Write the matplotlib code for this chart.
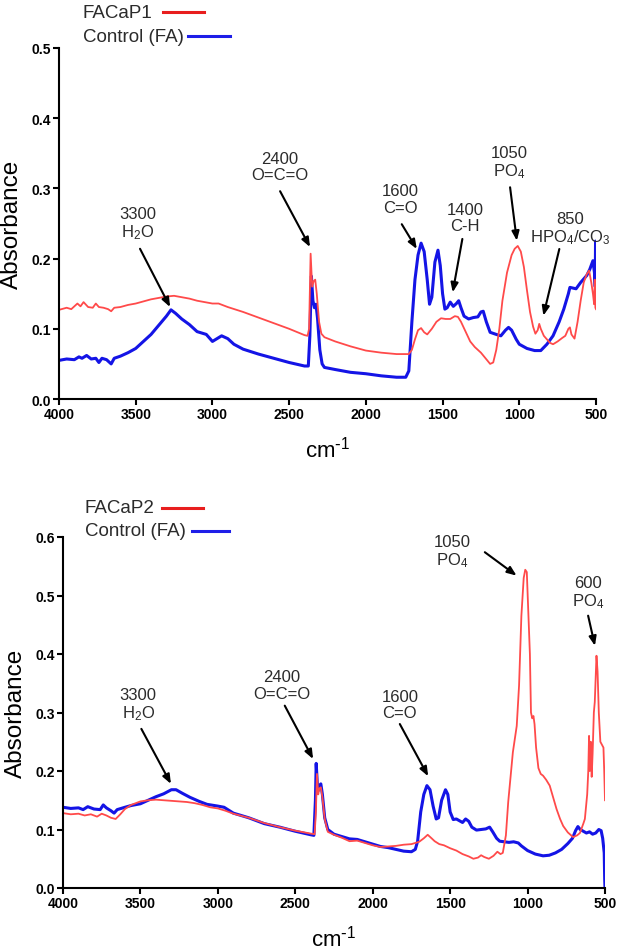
import matplotlib
matplotlib.use("Agg")
import matplotlib.pyplot as plt
from matplotlib.lines import Line2D
from matplotlib.ticker import FormatStrFormatter, MultipleLocator

W, H = 622, 953

plt.rcParams["font.family"] = ["Liberation Sans", "DejaVu Sans"]
plt.rcParams["mathtext.default"] = "regular"

# ---- panel 1: FACaP1 vs control ----
top_fa_wn = [4000, 3950, 3900, 3870, 3850, 3820, 3790, 3760, 3740, 3720, 3690, 3660, 3640,
             3600, 3550, 3500, 3450, 3400, 3350, 3300, 3270, 3240, 3200, 3150, 3100, 3070,
             3040, 3000, 2970, 2940, 2900, 2860, 2800, 2700, 2600, 2500, 2400, 2375, 2365,
             2355, 2345, 2335, 2325, 2315, 2300, 2285, 2270, 2200, 2100, 2000, 1900, 1800,
             1740, 1720, 1700, 1680, 1660, 1640, 1620, 1600, 1585, 1570, 1550, 1530, 1515,
             1500, 1485, 1470, 1450, 1430, 1410, 1395, 1380, 1360, 1330, 1300, 1270, 1250,
             1235, 1215, 1190, 1150, 1120, 1090, 1070, 1050, 1020, 1000, 950, 900, 860, 820,
             780, 740, 710, 680, 670, 650, 630, 600, 560, 540, 520, 510, 505, 503, 500]
top_fa_abs = [0.055, 0.057, 0.056, 0.060, 0.058, 0.062, 0.057, 0.058, 0.052, 0.058, 0.056,
              0.050, 0.058, 0.061, 0.066, 0.072, 0.082, 0.092, 0.105, 0.118, 0.127, 0.122,
              0.114, 0.106, 0.096, 0.094, 0.092, 0.082, 0.086, 0.090, 0.086, 0.078, 0.071,
              0.064, 0.058, 0.052, 0.047, 0.047, 0.090, 0.175, 0.140, 0.130, 0.135, 0.115,
              0.070, 0.050, 0.045, 0.042, 0.038, 0.036, 0.033, 0.031, 0.031, 0.040, 0.110,
              0.170, 0.205, 0.222, 0.210, 0.170, 0.135, 0.145, 0.195, 0.212, 0.190, 0.150,
              0.128, 0.130, 0.138, 0.132, 0.136, 0.140, 0.130, 0.118, 0.114, 0.116, 0.117,
              0.124, 0.125, 0.110, 0.095, 0.092, 0.090, 0.098, 0.102, 0.098, 0.085, 0.078,
              0.072, 0.069, 0.069, 0.078, 0.090, 0.110, 0.128, 0.150, 0.159, 0.158, 0.157,
              0.166, 0.176, 0.185, 0.197, 0.180, 0.160, 0.225, 0.200]

top_cap_wn = [4000, 3950, 3920, 3880, 3860, 3840, 3810, 3780, 3760, 3740, 3710, 3680, 3660,
              3640, 3600, 3550, 3500, 3450, 3400, 3350, 3300, 3250, 3200, 3150, 3100, 3050,
              3000, 2960, 2900, 2800, 2700, 2600, 2500, 2400, 2380, 2370, 2360, 2350, 2340,
              2330, 2320, 2305, 2290, 2270, 2200, 2100, 2000, 1900, 1800, 1720, 1700, 1680,
              1660, 1640, 1620, 1600, 1570, 1540, 1510, 1480, 1450, 1420, 1400, 1380, 1350,
              1320, 1290, 1250, 1220, 1190, 1170, 1150, 1130, 1110, 1080, 1050, 1030, 1010,
              990, 970, 950, 930, 910, 895, 880, 870, 860, 840, 820, 800, 780, 750, 720, 700,
              680, 670, 660, 640, 620, 600, 580, 560, 545, 530, 520, 512, 508, 504, 500]
top_cap_abs = [0.127, 0.130, 0.128, 0.136, 0.132, 0.138, 0.131, 0.130, 0.136, 0.131, 0.130,
               0.128, 0.125, 0.130, 0.131, 0.134, 0.136, 0.139, 0.142, 0.144, 0.146, 0.147,
               0.145, 0.143, 0.140, 0.138, 0.136, 0.136, 0.131, 0.124, 0.116, 0.108, 0.100,
               0.091, 0.090, 0.100, 0.207, 0.160, 0.168, 0.170, 0.150, 0.110, 0.093, 0.088,
               0.082, 0.075, 0.069, 0.066, 0.064, 0.064, 0.070, 0.085, 0.098, 0.101, 0.095,
               0.092, 0.100, 0.110, 0.115, 0.114, 0.114, 0.118, 0.117, 0.110, 0.096, 0.082,
               0.074, 0.066, 0.058, 0.050, 0.052, 0.070, 0.100, 0.140, 0.180, 0.205, 0.214,
               0.218, 0.210, 0.188, 0.155, 0.124, 0.103, 0.093, 0.098, 0.107, 0.100, 0.090,
               0.085, 0.080, 0.078, 0.082, 0.087, 0.090, 0.100, 0.102, 0.092, 0.086, 0.110,
               0.140, 0.166, 0.178, 0.183, 0.165, 0.150, 0.135, 0.170, 0.130, 0.128]

# ---- panel 2: FACaP2 vs control ----
bot_fa_wn = [4000, 3950, 3900, 3870, 3840, 3800, 3760, 3740, 3720, 3690, 3670, 3650, 3600,
             3560, 3500, 3450, 3400, 3350, 3300, 3270, 3230, 3180, 3120, 3070, 3000, 2960,
             2900, 2800, 2700, 2600, 2500, 2400, 2380, 2370, 2365, 2355, 2345, 2335, 2325,
             2310, 2290, 2250, 2200, 2150, 2100, 2050, 2000, 1950, 1900, 1850, 1800, 1750,
             1725, 1710, 1690, 1670, 1650, 1630, 1610, 1590, 1575, 1555, 1530, 1515, 1500,
             1480, 1460, 1440, 1420, 1400, 1380, 1360, 1330, 1300, 1270, 1245, 1225, 1200,
             1180, 1150, 1120, 1090, 1060, 1040, 1000, 950, 900, 860, 820, 780, 740, 710, 690,
             675, 660, 640, 620, 600, 580, 560, 540, 525, 515, 505, 502, 500]
bot_fa_abs = [0.138, 0.136, 0.137, 0.134, 0.139, 0.135, 0.134, 0.142, 0.137, 0.132, 0.128,
              0.134, 0.138, 0.141, 0.144, 0.150, 0.156, 0.161, 0.168, 0.168, 0.162, 0.155,
              0.148, 0.143, 0.140, 0.138, 0.128, 0.120, 0.110, 0.104, 0.097, 0.091, 0.090,
              0.150, 0.213, 0.165, 0.175, 0.178, 0.160, 0.120, 0.100, 0.092, 0.088, 0.084,
              0.083, 0.079, 0.075, 0.071, 0.069, 0.066, 0.063, 0.062, 0.066, 0.080, 0.130,
              0.160, 0.175, 0.168, 0.140, 0.118, 0.120, 0.150, 0.168, 0.160, 0.130, 0.117,
              0.118, 0.115, 0.112, 0.118, 0.114, 0.104, 0.099, 0.100, 0.101, 0.104, 0.096,
              0.085, 0.080, 0.079, 0.078, 0.079, 0.077, 0.072, 0.064, 0.058, 0.055, 0.056,
              0.060, 0.066, 0.076, 0.085, 0.098, 0.105, 0.100, 0.097, 0.094, 0.096, 0.092,
              0.094, 0.100, 0.098, 0.085, 0.060, 0.015, 0.0]

bot_cap_wn = [4000, 3950, 3900, 3860, 3820, 3780, 3750, 3720, 3690, 3660, 3630, 3600, 3560,
              3500, 3450, 3400, 3350, 3300, 3250, 3200, 3150, 3100, 3050, 3000, 2950, 2900,
              2800, 2700, 2600, 2500, 2400, 2375, 2367, 2360, 2352, 2345, 2335, 2325, 2310,
              2290, 2250, 2200, 2150, 2100, 2050, 2000, 1950, 1900, 1850, 1800, 1750, 1700,
              1670, 1645, 1620, 1600, 1570, 1540, 1500, 1460, 1420, 1380, 1350, 1320, 1300,
              1280, 1250, 1220, 1195, 1175, 1160, 1140, 1125, 1095, 1070, 1055, 1040, 1025,
              1015, 1005, 995, 985, 978, 970, 962, 955, 945, 930, 915, 900, 880, 857, 835, 813,
              790, 770, 740, 706, 680, 662, 640, 630, 615, 608, 603, 598, 592, 586, 580, 572,
              566, 555, 548, 540, 530, 520, 510, 505, 500]
bot_cap_abs = [0.128, 0.126, 0.127, 0.124, 0.126, 0.122, 0.127, 0.124, 0.120, 0.118, 0.126,
               0.135, 0.142, 0.148, 0.150, 0.151, 0.150, 0.149, 0.148, 0.147, 0.145, 0.142,
               0.138, 0.136, 0.132, 0.127, 0.120, 0.111, 0.104, 0.098, 0.093, 0.092, 0.130,
               0.195, 0.160, 0.170, 0.172, 0.155, 0.118, 0.096, 0.091, 0.086, 0.080, 0.081,
               0.077, 0.073, 0.070, 0.071, 0.072, 0.074, 0.075, 0.079, 0.085, 0.091, 0.085,
               0.080, 0.075, 0.073, 0.068, 0.064, 0.058, 0.054, 0.050, 0.052, 0.056, 0.053,
               0.050, 0.055, 0.062, 0.058, 0.060, 0.090, 0.147, 0.232, 0.277, 0.346, 0.465,
               0.530, 0.544, 0.540, 0.470, 0.400, 0.300, 0.290, 0.294, 0.280, 0.240, 0.205,
               0.195, 0.192, 0.185, 0.175, 0.155, 0.135, 0.118, 0.106, 0.095, 0.087, 0.090,
               0.094, 0.110, 0.118, 0.160, 0.200, 0.260, 0.200, 0.250, 0.190, 0.230, 0.300,
               0.318, 0.397, 0.370, 0.300, 0.250, 0.245, 0.240, 0.200, 0.150]

RED = "#ff4a4a"
BLUE = "#1414e6"
TEXT = "#2b2b2b"


def fig_xy(px, py):
    return px / W, 1 - py / H


def legend_rows(fig, rows):
    # rows: (label, text left px, y px, line x0, line x1, colour)
    for label, tx, ty, x0, x1, color in rows:
        fx, fy = fig_xy(tx, ty)
        fig.text(fx, fy, label, fontsize=13.5, color=TEXT, ha="left", va="center")
        a, y = fig_xy(x0, ty)
        b, _ = fig_xy(x1, ty)
        fig.add_artist(Line2D([a, b], [y, y], color=color, lw=2.2,
                              transform=fig.transFigure))


def style_axes(ax, ymax):
    ax.set_xlim(4000, 500)
    ax.set_ylim(0, ymax)
    ax.xaxis.set_major_locator(MultipleLocator(500))
    ax.yaxis.set_major_locator(MultipleLocator(0.1))
    ax.yaxis.set_major_formatter(FormatStrFormatter("%.1f"))
    for side in ["top", "right"]:
        ax.spines[side].set_visible(False)
    for side in ["left", "bottom"]:
        ax.spines[side].set_linewidth(1.5)
    ax.tick_params(direction="out", length=4, width=1.5, pad=2)
    for lab in ax.get_xticklabels() + ax.get_yticklabels():
        lab.set_fontfamily(["Liberation Sans Narrow", "Liberation Sans"])
        lab.set_fontweight("bold")
        lab.set_fontsize(10)
    ax.set_ylabel("Absorbance", fontsize=17.5, labelpad=6)
    ax.set_xlabel("cm$^{\\text{-}1}$", fontsize=16, labelpad=10)


def annotate(ax, notes):
    for text, tx, ty, ax0, ay0, hx, hy in notes:
        ax.text(tx, ty, text, fontsize=12, color=TEXT, ha="center", va="center",
                linespacing=1.1)
        ax.annotate("", xy=(hx, hy), xytext=(ax0, ay0),
                    arrowprops=dict(arrowstyle="-|>,head_length=0.55,head_width=0.22",
                                    lw=1.5, color="black", shrinkA=0, shrinkB=0))


fig = plt.figure(figsize=(W / 100, H / 100), dpi=100)

ax1 = fig.add_axes([59 / W, 1 - 400 / H, (596 - 59) / W, (400 - 49) / H])
ax1.plot(top_fa_wn, top_fa_abs, color=BLUE, lw=2.2)
ax1.plot(top_cap_wn, top_cap_abs, color=RED, lw=1.3)
style_axes(ax1, 0.5)
annotate(ax1, [
    ("3300\nH$_2$O", 3485, 0.250, 3472, 0.214, 3276, 0.131),
    ("2400\nO=C=O", 2559, 0.331, 2559, 0.296, 2364, 0.2165),
    ("1600\nC=O", 1777, 0.285, 1766, 0.249, 1668, 0.2137),
    ("1400\nC-H", 1353, 0.259, 1371, 0.228, 1434, 0.152),
    ("1050\nPO$_4$", 1067, 0.337, 1060, 0.3016, 1016, 0.2255),
    ("850\nHPO$_4$/CO$_3$", 669, 0.2435, 739, 0.2137, 843, 0.1187),
])
legend_rows(fig, [
    ("FACaP1", 83, 13, 163, 204, "#e81e1e"),
    ("Control (FA)", 83, 37, 188, 230, "#1e1ee8"),
])

ax2 = fig.add_axes([63 / W, 1 - 889 / H, (605 - 63) / W, (889 - 538) / H])
ax2.plot(bot_fa_wn, bot_fa_abs, color=BLUE, lw=2.2)
ax2.plot(bot_cap_wn, bot_cap_abs, color=RED, lw=1.3)
style_axes(ax2, 0.6)
annotate(ax2, [
    ("3300\nH$_2$O", 3515, 0.3137, 3494, 0.272, 3303, 0.178),
    ("2400\nO=C=O", 2589, 0.347, 2568, 0.3117, 2385, 0.2205),
    ("1600\nC=O", 1825, 0.313, 1825, 0.2803, 1642, 0.191),
    ("1050\nPO$_4$", 1486, 0.575, 1276, 0.574, 1071, 0.534),
    ("600\nPO$_4$", 609, 0.505, 609, 0.4655, 565, 0.414),
])
legend_rows(fig, [
    ("FACaP2", 85, 509, 162, 203, "#e81e1e"),
    ("Control (FA)", 85, 532, 192, 229, "#1e1ee8"),
])

fig.savefig("out.png", dpi=100, facecolor="white")
